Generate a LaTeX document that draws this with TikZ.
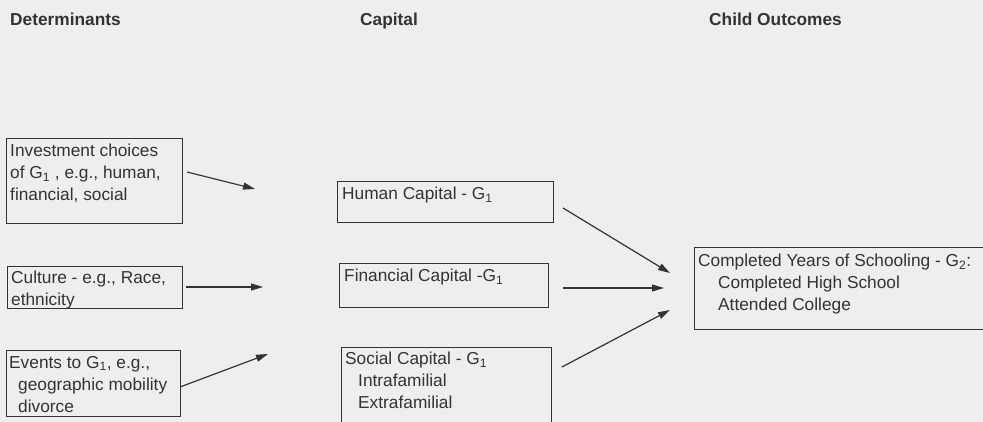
\documentclass[tikz,border=0pt]{standalone}
\usepackage{fontspec}
\setmainfont{Liberation Sans}
\usetikzlibrary{arrows.meta}
\definecolor{ink}{HTML}{333333}
\definecolor{paper}{HTML}{EEEEEE}
\tikzset{
  box/.style={draw=ink,line width=1.2pt,inner sep=0pt,anchor=north west},
  txt/.style={anchor=north west,inner sep=0pt,align=left,text=ink,font=\fontsize{17.3}{22}\selectfont},
  head/.style={txt,font=\fontsize{17.3}{22}\selectfont\bfseries},
  arr/.style={-{Triangle[length=12pt,width=7pt]},draw=ink,line width=1.2pt}
}
\newcommand{\sub}[1]{\textsubscript{#1}}
\begin{document}
\begin{tikzpicture}[x=1pt,y=-1pt]
  \useasboundingbox (0,0) rectangle (983,422);
  \clip (0,0) rectangle (983,422);
  \fill[paper] (0,0) rectangle (983,422);
  % column heads
  \node[head] (hdet) at (10,13) {Determinants};
  \node[head] (hcap) at (360,13) {Capital};
  \node[head] (hout) at (709,13) {Child Outcomes};
  % determinants
  \node[box,minimum width=176pt,minimum height=85pt] (inv) at (6,138) {};
  \node[txt] (invt) at (10,144) {Investment choices\\of G\sub{1} , e.g., human,\\financial, social};
  \node[box,minimum width=175pt,minimum height=42pt] (cul) at (7,266) {};
  \node[txt] (cult) at (11,271) {Culture - e.g., Race,\\ethnicity};
  \node[box,minimum width=174pt,minimum height=66pt] (ev) at (6,350) {};
  \node[txt] (evt) at (9,356) {Events to G\sub{1}, e.g.,\\\hspace*{9pt}geographic mobility\\\hspace*{9pt}divorce};
  % capital
  \node[box,minimum width=216pt,minimum height=41pt] (hum) at (337,181) {};
  \node[txt] (humt) at (342,187) {Human Capital - G\sub{1}};
  \node[box,minimum width=209pt,minimum height=44pt] (fin) at (339,263) {};
  \node[txt] (fint) at (344,269) {Financial Capital -G\sub{1}};
  \node[box,minimum width=210pt,minimum height=90pt] (soc) at (341,347) {};
  \node[txt] (soct) at (345,352) {Social Capital - G\sub{1}\\\hspace*{13pt}Intrafamilial\\\hspace*{13pt}Extrafamilial};
  % outcome
  \node[box,minimum width=300pt,minimum height=82pt] (out) at (694,247) {};
  \node[txt] (outt) at (698,254) {Completed Years of Schooling - G\sub{2}:\\\hspace*{20pt}Completed High School\\\hspace*{20pt}Attended College};
  % arrow ends
  \coordinate (inv o) at (187,172);  \coordinate (inv i) at (255,189);
  \coordinate (cul o) at (186,287);  \coordinate (cul i) at (263,287);
  \coordinate (ev o) at (180,387);   \coordinate (ev i) at (268,354);
  \coordinate (hum o) at (563,208);  \coordinate (hum i) at (670,273);
  \coordinate (fin o) at (563,288);  \coordinate (fin i) at (664,288);
  \coordinate (soc o) at (562,367);  \coordinate (soc i) at (670,310);
  \foreach \a in {inv,cul,ev,hum,fin,soc}
    \draw[arr] (\a\space o) -- (\a\space i);
\end{tikzpicture}
\end{document}
